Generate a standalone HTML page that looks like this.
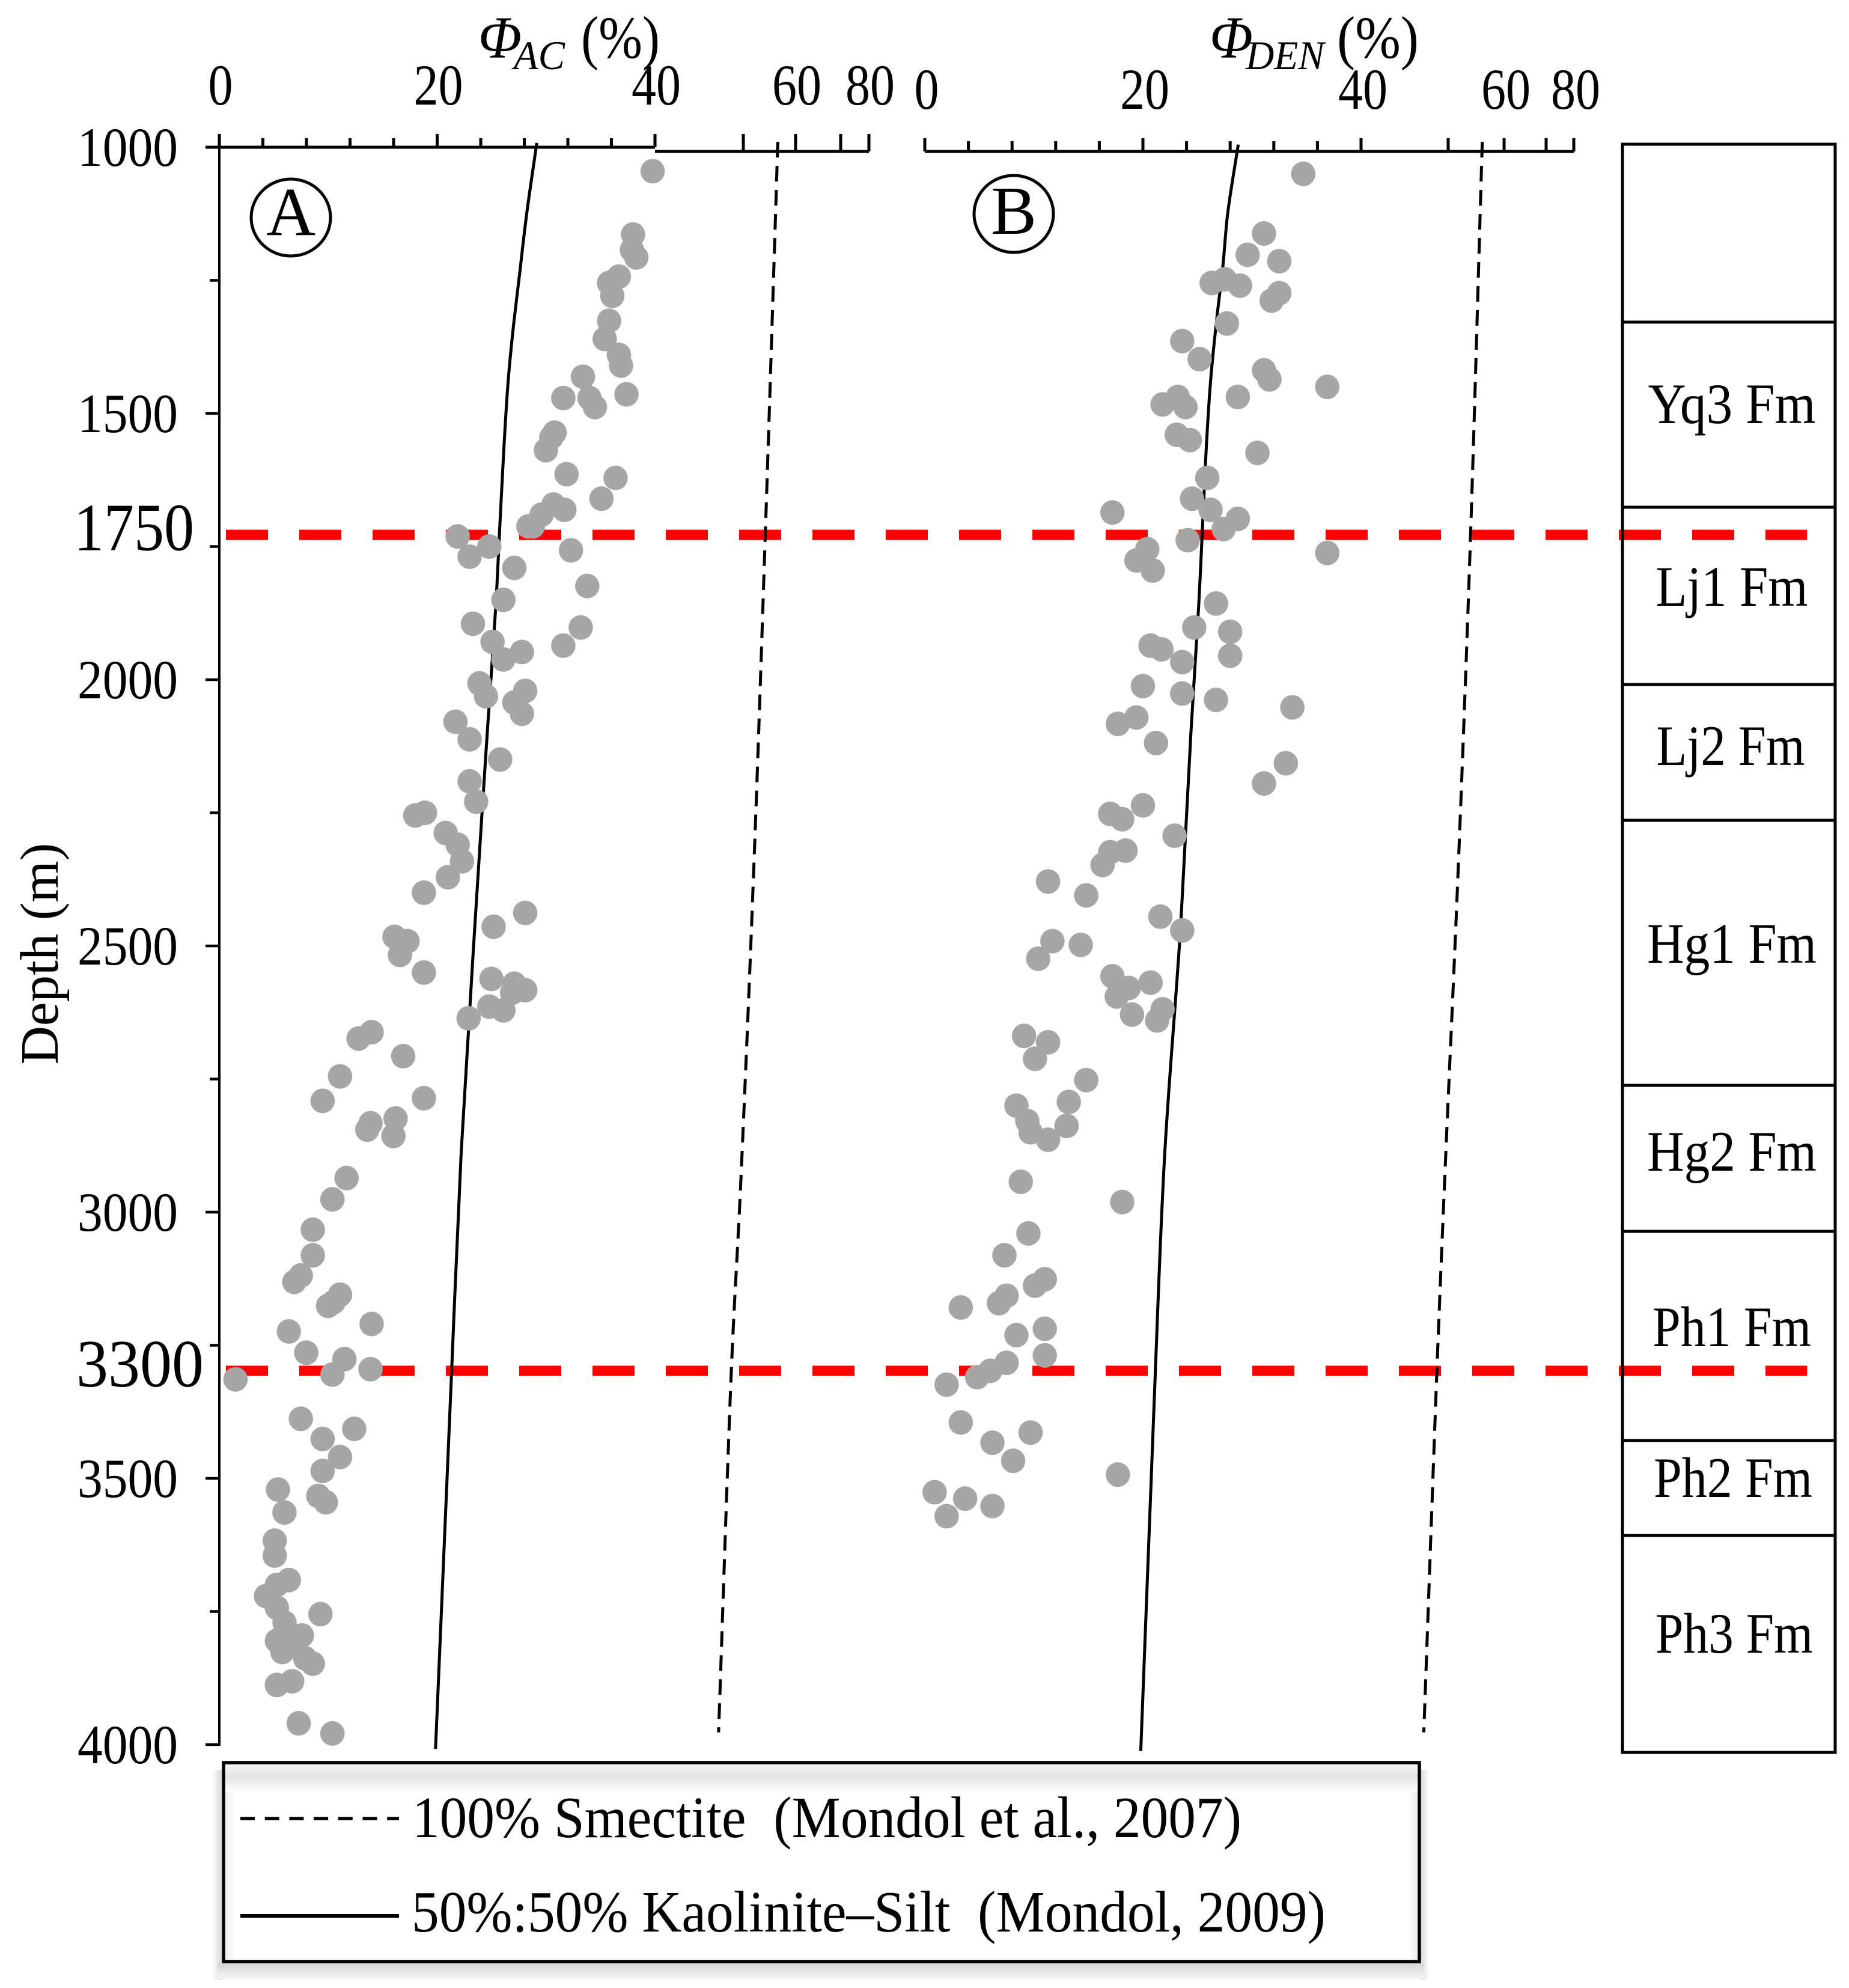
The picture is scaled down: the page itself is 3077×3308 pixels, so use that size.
<!DOCTYPE html>
<html lang="en">
<head>
<meta charset="utf-8">
<title>Porosity versus depth</title>
<style>
html,body{margin:0;padding:0;background:#fff;}
svg{display:block;}
text{font-family:"Liberation Serif","Times New Roman",serif;fill:#000;white-space:pre;}
</style>
</head>
<body>
<svg id="chart" xmlns="http://www.w3.org/2000/svg" width="3077" height="3308" viewBox="0 0 3077 3308">
<defs>
<linearGradient id="gTop" x1="0" y1="0" x2="0" y2="1"><stop offset="0" stop-color="#f4f4f4"/><stop offset="0.45" stop-color="#e4e4e4"/><stop offset="1" stop-color="#fff"/></linearGradient>
<linearGradient id="gBot" x1="0" y1="0" x2="0" y2="1"><stop offset="0" stop-color="#d4d4d4"/><stop offset="1" stop-color="#f4f4f4"/></linearGradient>
<linearGradient id="gLeftOut" x1="0" y1="0" x2="1" y2="0"><stop offset="0" stop-color="#fff"/><stop offset="1" stop-color="#d8d8d8"/></linearGradient>
<linearGradient id="gRightOut" x1="0" y1="0" x2="1" y2="0"><stop offset="0" stop-color="#d8d8d8"/><stop offset="1" stop-color="#fff"/></linearGradient>
<linearGradient id="gLeftIn" x1="0" y1="0" x2="1" y2="0"><stop offset="0" stop-color="#ececec"/><stop offset="1" stop-color="#fff"/></linearGradient>
<linearGradient id="gRightIn" x1="0" y1="0" x2="1" y2="0"><stop offset="0" stop-color="#fff"/><stop offset="1" stop-color="#ececec"/></linearGradient>
</defs>
<rect width="3077" height="3308" fill="#fff"/>

<g id="static-titles">
<text x="796" y="96" font-size="100" font-style="italic" textLength="72" lengthAdjust="spacingAndGlyphs">Φ</text>
<text x="855" y="115" font-size="68" font-style="italic" textLength="85" lengthAdjust="spacingAndGlyphs">AC</text>
<text x="967" y="96" font-size="100" textLength="131" lengthAdjust="spacingAndGlyphs">(%)</text>
<text x="2013" y="96" font-size="100" font-style="italic" textLength="72" lengthAdjust="spacingAndGlyphs">Φ</text>
<text x="2073" y="115" font-size="68" font-style="italic" textLength="131" lengthAdjust="spacingAndGlyphs">DEN</text>
<text x="2225" y="96" font-size="100" textLength="136" lengthAdjust="spacingAndGlyphs">(%)</text>
<text transform="translate(96,1587) rotate(-90)" text-anchor="middle" font-size="90" textLength="369" lengthAdjust="spacingAndGlyphs">Depth (m)</text>
</g>

<g id="layer-ref"></g>
<g id="layer-axes"></g>
<g id="layer-curves"></g>
<g id="layer-points"></g>

<g>
<ellipse cx="484" cy="362" rx="66" ry="64" fill="none" stroke="#000" stroke-width="5"/>
<text x="484" y="391" font-size="114" text-anchor="middle">A</text>
</g>
<g>
<ellipse cx="1687" cy="356" rx="66" ry="64" fill="none" stroke="#000" stroke-width="5"/>
<text x="1687" y="389" font-size="114" text-anchor="middle">B</text>
</g>

<g>
<rect x="2700" y="240" width="354" height="2676" fill="none" stroke="#000" stroke-width="5"/>
<line x1="2700" x2="3054" y1="536" y2="536" stroke="#000" stroke-width="5"/>
<line x1="2700" x2="3054" y1="844" y2="844" stroke="#000" stroke-width="5"/>
<line x1="2700" x2="3054" y1="1139" y2="1139" stroke="#000" stroke-width="5"/>
<line x1="2700" x2="3054" y1="1365" y2="1365" stroke="#000" stroke-width="5"/>
<line x1="2700" x2="3054" y1="1806" y2="1806" stroke="#000" stroke-width="5"/>
<line x1="2700" x2="3054" y1="2049" y2="2049" stroke="#000" stroke-width="5"/>
<line x1="2700" x2="3054" y1="2397" y2="2397" stroke="#000" stroke-width="5"/>
<line x1="2700" x2="3054" y1="2555" y2="2555" stroke="#000" stroke-width="5"/>
<text x="2882" y="704" font-size="95" text-anchor="middle" textLength="279" lengthAdjust="spacingAndGlyphs">Yq3 Fm</text>
<text x="2882" y="1008" font-size="95" text-anchor="middle" textLength="253" lengthAdjust="spacingAndGlyphs">Lj1 Fm</text>
<text x="2880" y="1273" font-size="95" text-anchor="middle" textLength="247" lengthAdjust="spacingAndGlyphs">Lj2 Fm</text>
<text x="2882" y="1602" font-size="95" text-anchor="middle" textLength="282" lengthAdjust="spacingAndGlyphs">Hg1 Fm</text>
<text x="2882" y="1948" font-size="95" text-anchor="middle" textLength="282" lengthAdjust="spacingAndGlyphs">Hg2 Fm</text>
<text x="2882" y="2240" font-size="95" text-anchor="middle" textLength="264" lengthAdjust="spacingAndGlyphs">Ph1 Fm</text>
<text x="2884" y="2491" font-size="95" text-anchor="middle" textLength="264" lengthAdjust="spacingAndGlyphs">Ph2 Fm</text>
<text x="2886" y="2750" font-size="95" text-anchor="middle" textLength="262" lengthAdjust="spacingAndGlyphs">Ph3 Fm</text>
</g>

<g>
<rect x="352" y="2945" width="18" height="349" fill="url(#gLeftOut)"/>
<rect x="2364" y="2945" width="14" height="349" fill="url(#gRightOut)"/>
<rect x="362" y="3266" width="2008" height="26" fill="url(#gBot)"/>
<rect x="370" y="2936" width="1994" height="328" fill="#fff"/>
<rect x="372" y="2936" width="20" height="328" fill="url(#gLeftIn)"/>
<rect x="2342" y="2936" width="20" height="328" fill="url(#gRightIn)"/>
<rect x="372" y="2936" width="1990" height="46" fill="url(#gTop)"/>
<rect x="372" y="2933" width="1990" height="331" fill="none" stroke="#000" stroke-width="5.5"/>
<line x1="400" x2="664" y1="3026" y2="3026" stroke="#000" stroke-width="5.5" stroke-dasharray="24,16.7"/>
<line x1="400" x2="664" y1="3188" y2="3188" stroke="#000" stroke-width="6"/>
<text x="686" y="3057" font-size="97" textLength="1380" lengthAdjust="spacingAndGlyphs">100% Smectite  (Mondol et al., 2007)</text>
<text x="685" y="3214" font-size="97" textLength="1521" lengthAdjust="spacingAndGlyphs">50%:50% Kaolinite–Silt  (Mondol, 2009)</text>
</g>
</svg>

<script>
// ---- Data ----
const phiA = [39.7,37.9,37.8,38.2,36.6,35.7,36.0,35.7,35.3,36.6,36.8,33.3,31.5,33.9,34.4,37.3,30.7,30.4,29.9,31.8,36.3,35.0,31.6,30.6,29.5,28.7,28.3,21.8,22.9,24.7,32.2,27.0,33.7,26.0,23.2,33.1,31.5,25.0,27.7,26.0,23.8,28.0,24.4,27.0,27.7,21.6,22.9,25.7,22.9,23.5,18.8,17.9,20.7,21.8,22.2,20.9,18.7,28.0,25.1,17.2,16.0,16.5,18.7,24.9,27.0,28.0,26.8,24.7,26.0,22.8,13.9,12.7,16.8,11.0,9.4,18.7,16.1,13.8,13.5,15.9,11.6,10.3,8.5,8.5,7.4,6.8,11.0,10.4,9.9,13.9,6.3,7.9,11.4,13.8,10.3,1.4,7.4,12.3,9.4,11.0,9.4,5.3,9.0,9.7,5.9,5.0,5.0,6.3,5.2,4.2,5.2,9.2,5.9,7.5,5.2,6.6,5.7,7.8,8.5,5.2,6.6,7.2,10.3];
const depthA = [1045,1164,1193,1207,1243,1255,1279,1326,1360,1390,1410,1431,1471,1471,1488,1464,1536,1545,1569,1614,1621,1660,1681,1671,1690,1712,1712,1731,1769,1750,1757,1790,1824,1850,1895,1902,1936,1929,1948,1962,2007,2021,2031,2043,2064,2079,2112,2150,2191,2229,2250,2255,2288,2310,2341,2371,2400,2438,2464,2491,2483,2517,2550,2562,2571,2583,2588,2614,2621,2636,2662,2674,2707,2745,2791,2786,2824,2833,2845,2857,2936,2976,3033,3081,3119,3131,3155,3169,3176,3210,3224,3264,3276,3295,3305,3314,3388,3407,3426,3460,3486,3521,3533,3545,3564,3617,3645,3691,3700,3721,3743,3755,3771,3795,3805,3812,3826,3838,3848,3888,3881,3960,3979];
const phiB = [34.7,31.1,29.6,32.5,27.5,26.3,28.9,32.5,31.8,27.7,23.6,25.2,31.1,31.6,36.9,28.7,23.2,21.8,23.9,23.1,24.3,30.5,25.9,24.5,26.2,17.2,28.7,27.4,24.1,20.4,19.4,20.9,36.9,26.7,28.0,24.7,20.7,21.7,28.0,23.6,20.0,23.6,26.7,33.7,19.4,17.7,21.2,33.1,31.1,20.0,17.0,18.1,22.9,18.4,17.0,16.3,11.3,14.8,21.6,23.6,11.7,14.3,10.4,17.2,20.7,18.7,17.6,21.8,19.0,21.3,9.1,11.3,10.1,14.8,13.2,8.4,9.4,13.0,9.7,11.3,8.8,18.1,9.5,7.3,11.0,10.1,7.5,6.8,3.3,11.0,8.4,11.0,7.5,6.0,4.8,2.0,9.7,3.3,6.2,8.1,17.7,0.9,3.7,6.2,2.0];
const depthB = [1050,1162,1202,1214,1248,1255,1260,1274,1288,1331,1364,1398,1419,1436,1450,1469,1469,1483,1488,1540,1550,1574,1621,1660,1681,1686,1698,1717,1738,1755,1776,1795,1762,1857,1910,1902,1936,1943,1955,1967,2012,2026,2038,2052,2071,2083,2119,2157,2195,2236,2252,2262,2293,2321,2324,2348,2379,2405,2445,2471,2491,2498,2524,2557,2569,2579,2595,2619,2629,2640,2669,2681,2712,2752,2793,2800,2829,2838,2850,2864,2943,2981,3040,3081,3126,3138,3157,3171,3179,3219,3231,3269,3283,3298,3310,3324,3414,3395,3433,3467,3493,3526,3538,3552,3571];

const kaoliniteDepthsA = [992,1123,1236,1348,1449,1572,1713,1859,2099,2459,2890,3298,4008];
const kaolinitePhiA = [29.15,28.23,27.58,26.94,26.48,26.11,25.75,25.39,24.6,23.47,22.2,21.33,19.85];
const kaoliniteDepthsB = [995,1123,1224,1320,1432,1545,1657,1741,1859,2099,2459,2890,3298,4012];
const kaolinitePhiB = [28.74,27.78,27.33,26.78,26.23,25.86,25.59,25.4,25.12,24.4,23.47,22.0,21.14,19.8];
const smectiteDepths = [990,1729,2354,2938,3298,3977];
const smectitePhiA = [56.6,54.2,52.0,49.73,48.64,47.2];
const smectitePhiB = [56.1,54.0,51.8,49.6,48.7,47.2];

const referenceDepths = [1728,3298];
const depthTicksMajor = [1000,1500,2000,2500,3000,3500,4000];
const depthTicksMinor = [1250,1750,2250,2750,3250,3750];
const depthLabels = [1000,1500,2000,2500,3000,3500,4000];
const depthLabelsLarge = [1750,3300];
const phiTicksMajor = [0,20,40,60,80];
const phiTicksMinor = [4,8,12,16,24,28,32,36,50,70];
const phiLabels = [0,20,40,60,80];

// ---- Scales ----
const NS = 'http://www.w3.org/2000/svg';
const phiDomain = [0,40,50,60,70,80];
function makeX(range){
  return function(v){
    for(let i=1;i<phiDomain.length;i++){
      if(v<=phiDomain[i]||i===phiDomain.length-1){
        const t=(v-phiDomain[i-1])/(phiDomain[i]-phiDomain[i-1]);
        return range[i-1]+t*(range[i]-range[i-1]);
      }
    }
  };
}
const xA = makeX([365,1090,1237,1324,1399,1446]);
const xB = makeX([1539,2265,2410,2503,2573,2619]);
function yD(d){ return 245 + (d-1000)*0.886; }

function mk(tag, attrs, parent){
  const el=document.createElementNS(NS,tag);
  for(const k in attrs) el.setAttribute(k,attrs[k]);
  parent.appendChild(el);
  return el;
}
const layerRef=document.getElementById('layer-ref');
const layerAxes=document.getElementById('layer-axes');
const layerCurves=document.getElementById('layer-curves');
const layerPoints=document.getElementById('layer-points');

// ---- Reference lines ----
referenceDepths.forEach(function(d){
  const el=mk('line',{x1:376,x2:3007,y1:yD(d),y2:yD(d),stroke:'#ff0000','stroke-width':17,'stroke-dasharray':'70,52'},layerRef);
  
  
});

// ---- Depth axis ----
const yAxisLine=mk('line',{x1:365,x2:365,y1:223,y2:yD(4000)+2,stroke:'#000','stroke-width':4},layerAxes);


depthTicksMajor.forEach(function(d){
  const el=mk('line',{x1:342,x2:365,y1:yD(d),y2:yD(d),stroke:'#000','stroke-width':4.5},layerAxes);
  
  
});
depthTicksMinor.forEach(function(d){
  const el=mk('line',{x1:349,x2:365,y1:yD(d),y2:yD(d),stroke:'#000','stroke-width':4.5},layerAxes);
  
  
});
depthLabels.forEach(function(d){
  const el=mk('text',{x:296,y:yD(d)+31,'font-size':92,'text-anchor':'end',textLength:167,lengthAdjust:'spacingAndGlyphs'},layerAxes);
  el.textContent=String(d);
  
  
});
depthLabelsLarge.forEach(function(d,i){
  const el=mk('text',{x:i===0?323:339,y:yD(d)+(i===0?6:24),'font-size':112,'text-anchor':'end',textLength:i===0?200:212,lengthAdjust:'spacingAndGlyphs'},layerAxes);
  el.textContent=String(d);
  
  
});

// ---- Phi axes ----
function drawPhiAxis(x,cfg){
  const line1=mk('line',{x1:cfg.startX,x2:x(40),y1:cfg.y1,y2:cfg.y1,stroke:'#000','stroke-width':5},layerAxes);
  
  
  const line2=mk('line',{x1:x(40),x2:x(80),y1:cfg.y2,y2:cfg.y2,stroke:'#000','stroke-width':5},layerAxes);
  
  
  phiTicksMajor.forEach(function(v){
    const base=v>40?cfg.y2:cfg.y1;
    const el=mk('line',{x1:x(v),x2:x(v),y1:cfg.majorTop,y2:base,stroke:'#000','stroke-width':5},layerAxes);
    
    
  });
  phiTicksMinor.forEach(function(v){
    const base=v>40?cfg.y2:cfg.y1;
    const top=v>40?cfg.majorTop:cfg.minorTop;
    const el=mk('line',{x1:x(v),x2:x(v),y1:top,y2:base,stroke:'#000','stroke-width':5},layerAxes);
    
    
  });
  phiLabels.forEach(function(v){
    const s=String(v);
    const el=mk('text',{x:x(v)+cfg.labelDx,y:cfg.labelY,'font-size':96,'text-anchor':'middle',textLength:s.length*41,lengthAdjust:'spacingAndGlyphs'},layerAxes);
    el.textContent=s;
    
    
  });
}
drawPhiAxis(xA,{prefix:'panel-a',startX:342,y1:245,y2:252,majorTop:223,minorTop:230,labelY:174,labelDx:2});
drawPhiAxis(xB,{prefix:'panel-b',startX:1539,y1:252,y2:252,majorTop:230,minorTop:235,labelY:181,labelDx:3});

// ---- Model curves: x as a smooth function of depth through the read values ----
function curvePath(x,phis,depths){
  const px=phis.map(function(p){return x(p);});
  const py=depths.map(yD);
  const n=px.length;
  const m=px.map(function(_,i){
    const a=Math.max(i-1,0),b=Math.min(i+1,n-1);
    return (px[b]-px[a])/(py[b]-py[a]);
  });
  let d='M'+px[0].toFixed(1)+' '+py[0].toFixed(1);
  for(let i=0;i<n-1;i++){
    const h=(py[i+1]-py[i])/3;
    d+=' C'+(px[i]+m[i]*h).toFixed(1)+' '+(py[i]+h).toFixed(1)+' '+(px[i+1]-m[i+1]*h).toFixed(1)+' '+(py[i+1]-h).toFixed(1)+' '+px[i+1].toFixed(1)+' '+py[i+1].toFixed(1);
  }
  return d;
}
const kaoA=mk('path',{d:curvePath(xA,kaolinitePhiA,kaoliniteDepthsA),fill:'none',stroke:'#000','stroke-width':5},layerCurves);


const smeA=mk('path',{d:curvePath(xA,smectitePhiA,smectiteDepths),fill:'none',stroke:'#000','stroke-width':5,'stroke-dasharray':'26,14'},layerCurves);


const kaoB=mk('path',{d:curvePath(xB,kaolinitePhiB,kaoliniteDepthsB),fill:'none',stroke:'#000','stroke-width':5},layerCurves);


const smeB=mk('path',{d:curvePath(xB,smectitePhiB,smectiteDepths),fill:'none',stroke:'#000','stroke-width':5,'stroke-dasharray':'26,14'},layerCurves);



// ---- Points ----
phiA.forEach(function(p,i){
  const el=mk('ellipse',{cx:xA(p)+1.5,cy:yD(depthA[i]),rx:20.3,ry:20.5,fill:'#a6a6a6'},layerPoints);
  
  
});
phiB.forEach(function(p,i){
  const el=mk('ellipse',{cx:xB(p),cy:yD(depthB[i]),rx:20.3,ry:20.5,fill:'#a6a6a6'},layerPoints);
  
  
});
</script>
</body>
</html>
